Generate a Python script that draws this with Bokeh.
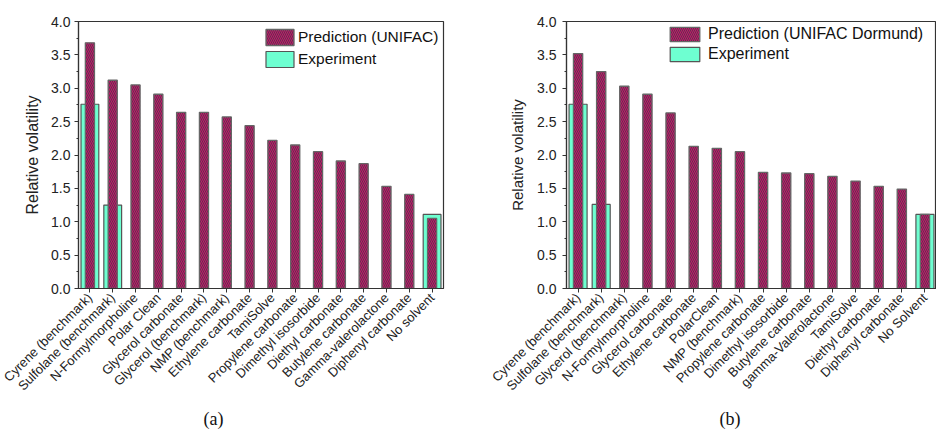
import math
from bokeh.plotting import figure
from bokeh.models import (FactorRange, Range1d, FixedTicker, Legend, LegendItem,
                          Title, NumeralTickFormatter, ColumnDataSource)
from bokeh.layouts import row
from bokeh.embed import file_html
from bokeh.resources import INLINE

# ---------------- data (a) UNIFAC ----------------
solvents_a = ["Cyrene (benchmark)", "Sulfolane (benchmark)", "N-Formylmorpholine",
              "Polar Clean", "Glycerol carbonate", "Glycerol (benchmark)",
              "NMP (benchmark)", "Ethylene carbonate", "TamiSolve",
              "Propylene carbonate", "Dimethyl isosorbide", "Diethyl carbonate",
              "Butylene carbonate", "Gamma-valerolactone", "Diphenyl carbonate",
              "No solvent"]
pred_a = [3.68, 3.12, 3.05, 2.91, 2.64, 2.64, 2.57, 2.44, 2.22, 2.15, 2.05,
          1.91, 1.87, 1.53, 1.41, 1.05]
exp_cats_a = ["Cyrene (benchmark)", "Sulfolane (benchmark)", "No solvent"]
exp_a = [2.76, 1.25, 1.11]

# ---------------- data (b) UNIFAC Dortmund ----------------
solvents_b = ["Cyrene (benchmark)", "Sulfolane (benchmark)", "Glycerol (benchmark)",
              "N-Formylmorpholine", "Glycerol carbonate", "Ethylene carbonate",
              "PolarClean", "NMP (benchmark)", "Propylene carbonate",
              "Dimethyl isosorbide", "Butylene carbonate", "gamma-Valerolactone",
              "TamiSolve", "Diethyl carbonate", "Diphenyl carbonate", "No Solvent"]
pred_b = [3.52, 3.25, 3.03, 2.91, 2.63, 2.13, 2.10, 2.05, 1.74, 1.73, 1.72,
          1.68, 1.61, 1.53, 1.49, 1.11]
exp_cats_b = ["Cyrene (benchmark)", "Sulfolane (benchmark)", "No Solvent"]
exp_b = [2.76, 1.26, 1.11]

y_ticks = [0.0, 0.5, 1.0, 1.5, 2.0, 2.5, 3.0, 3.5, 4.0]
y_minor = [0.25, 0.75, 1.25, 1.75, 2.25, 2.75, 3.25, 3.75]

PRED_FILL = "#C8106C"
HATCH = "#444444"
EXP_FILL = "#6EFFD1"
AXIS = "#333333"
FONT = "Liberation Sans"


def make_panel(cats, pred, exp_cats, exp, pred_label, caption, cfg):
    p = figure(width=468, height=433, x_range=FactorRange(*cats),
               y_range=Range1d(0, 4), output_backend="svg", toolbar_location=None,
               min_border_left=cfg["bl"], min_border_right=cfg["br"],
               min_border_top=cfg["bt"], min_border_bottom=cfg["bb"])
    p.xgrid.grid_line_color = None
    p.ygrid.grid_line_color = None
    p.outline_line_color = AXIS
    p.outline_line_width = 1.2
    p.background_fill_color = "white"
    p.border_fill_color = "white"

    src_e = ColumnDataSource(dict(x=exp_cats, top=exp))
    src_p = ColumnDataSource(dict(x=cats, top=pred))
    r_e = p.vbar(x="x", top="top", width=0.78, source=src_e, fill_color=EXP_FILL,
                 line_color="#555555", line_width=1.2)
    r_p = p.vbar(x="x", top="top", width=0.4, source=src_p, fill_color=PRED_FILL,
                 line_color="#666666", line_width=1.3, hatch_pattern="\\",
                 hatch_color=HATCH, hatch_scale=4, hatch_weight=0.9, hatch_alpha=0.9)

    # y axis
    p.yaxis.ticker = FixedTicker(ticks=y_ticks, minor_ticks=y_minor)
    p.yaxis.formatter = NumeralTickFormatter(format="0.0")
    p.yaxis.axis_label = "Relative volatility"
    p.yaxis.axis_label_text_font = FONT
    p.yaxis.axis_label_text_font_style = "normal"
    p.yaxis.axis_label_text_font_size = cfg["ylab_size"]
    p.yaxis.axis_label_text_color = "#222222"
    p.yaxis.axis_label_standoff = cfg["ylab_standoff"]
    p.yaxis.major_label_text_font = FONT
    p.yaxis.major_label_text_font_size = "14px"
    p.yaxis.major_label_text_color = "#222222"
    p.yaxis.major_label_standoff = cfg["ytick_standoff"]
    p.yaxis.major_tick_out = 4
    p.yaxis.major_tick_in = 0
    p.yaxis.minor_tick_out = 2
    p.yaxis.minor_tick_in = 0

    # x axis
    p.xaxis.major_label_orientation = math.pi / 4
    p.xaxis.major_label_text_font = FONT
    p.xaxis.major_label_text_font_size = "13px"
    p.xaxis.major_label_text_color = "#222222"
    p.xaxis.major_label_standoff = 3
    p.xaxis.major_tick_out = 4
    p.xaxis.major_tick_in = 0

    for ax in (p.xaxis[0], p.yaxis[0]):
        ax.axis_line_color = AXIS
        ax.axis_line_width = 1.2
        ax.major_tick_line_color = AXIS
    p.yaxis.minor_tick_line_color = AXIS
    p.xaxis.minor_tick_line_color = None

    legend = Legend(items=[LegendItem(label=pred_label, renderers=[r_p]),
                           LegendItem(label="Experiment", renderers=[r_e])],
                    location=cfg["leg_loc"], orientation="vertical")
    legend.glyph_width = cfg["gw"]
    legend.glyph_height = cfg["gh"]
    legend.label_height = cfg["gh"]
    legend.label_standoff = cfg["lstand"]
    legend.label_text_font = FONT
    legend.label_text_font_size = cfg["leg_size"]
    legend.label_text_color = "#111111"
    legend.spacing = 2
    legend.padding = 0
    legend.margin = 0
    legend.border_line_color = None
    legend.background_fill_alpha = 0
    p.add_layout(legend)

    cap = Title(text=caption, align="left", offset=cfg["cap_off"], standoff=cfg["cap_standoff"],
                text_font="Liberation Serif", text_font_size="18px",
                text_font_style="normal", text_color="#111111")
    p.add_layout(cap, "below")
    return p


cfg_a = dict(bl=78, br=25, bt=21, bb=143, ylab_size="16px", ylab_standoff=7,
             ytick_standoff=4, leg_loc=(184, 219), gw=35, gh=20, lstand=1,
             leg_size="15.5px", cap_off=125, cap_standoff=10)
cfg_b = dict(bl=98, br=0, bt=21, bb=144, ylab_size="15px", ylab_standoff=8,
             ytick_standoff=6, leg_loc=(100, 225), gw=37, gh=18, lstand=5,
             leg_size="16px", cap_off=153, cap_standoff=10)

p1 = make_panel(solvents_a, pred_a, exp_cats_a, exp_a, "Prediction (UNIFAC)", "(a)", cfg_a)
p2 = make_panel(solvents_b, pred_b, exp_cats_b, exp_b, "Prediction (UNIFAC Dormund)", "(b)", cfg_b)

layout = row(p1, p2)
open("out.html", "w").write(file_html(layout, INLINE))
